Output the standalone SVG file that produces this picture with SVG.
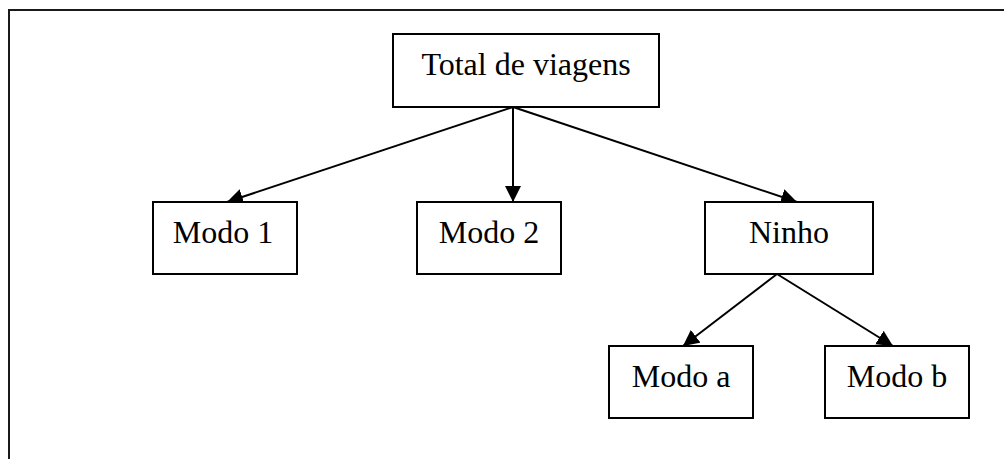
<svg xmlns="http://www.w3.org/2000/svg" width="1004" height="459" viewBox="0 0 1004 459">
  <style>
    .box { fill: #ffffff; stroke: #000000; stroke-width: 2; }
    .label { font-family: "Liberation Serif", "Times New Roman", serif; font-size: 32px; fill: #000000; text-anchor: middle; }
    .edge { fill: none; stroke: #000000; stroke-width: 2; marker-end: url(#arrow); }
    .frame { fill: none; stroke: #1a1a1a; stroke-width: 2; }
  </style>
  <defs>
    <marker id="arrow" markerUnits="userSpaceOnUse" markerWidth="17" markerHeight="16" refX="16" refY="8" orient="auto">
      <path d="M0,0 L16,8 L0,16 Z" fill="#000000"/>
    </marker>
  </defs>

  <rect width="1004" height="459" fill="#ffffff"/>

  <!-- outer frame: open on the right and bottom -->
  <path class="frame" d="M9,459 L9,10 L1004,10"/>

  <g id="connectors">
    <line class="edge" x1="513" y1="107" x2="227" y2="202"/>
    <line class="edge" x1="513" y1="107" x2="513" y2="202"/>
    <line class="edge" x1="513" y1="107" x2="797" y2="202"/>
    <line class="edge" x1="777" y1="274" x2="683" y2="346"/>
    <line class="edge" x1="777" y1="274" x2="893" y2="346"/>
  </g>

  <g id="total">
    <rect class="box" x="393" y="34" width="266" height="73"/>
    <text class="label" x="526" y="75">Total de viagens</text>
  </g>
  <g id="modo1">
    <rect class="box" x="153" y="202" width="144" height="72"/>
    <text class="label" x="223" y="243">Modo 1</text>
  </g>
  <g id="modo2">
    <rect class="box" x="417" y="202" width="144" height="72"/>
    <text class="label" x="489" y="243">Modo 2</text>
  </g>
  <g id="ninho">
    <rect class="box" x="705" y="202" width="168" height="72"/>
    <text class="label" x="789" y="243">Ninho</text>
  </g>
  <g id="modoa">
    <rect class="box" x="609" y="346" width="144" height="72"/>
    <text class="label" x="681" y="387">Modo a</text>
  </g>
  <g id="modob">
    <rect class="box" x="825" y="346" width="144" height="72"/>
    <text class="label" x="897" y="387">Modo b</text>
  </g>
</svg>
